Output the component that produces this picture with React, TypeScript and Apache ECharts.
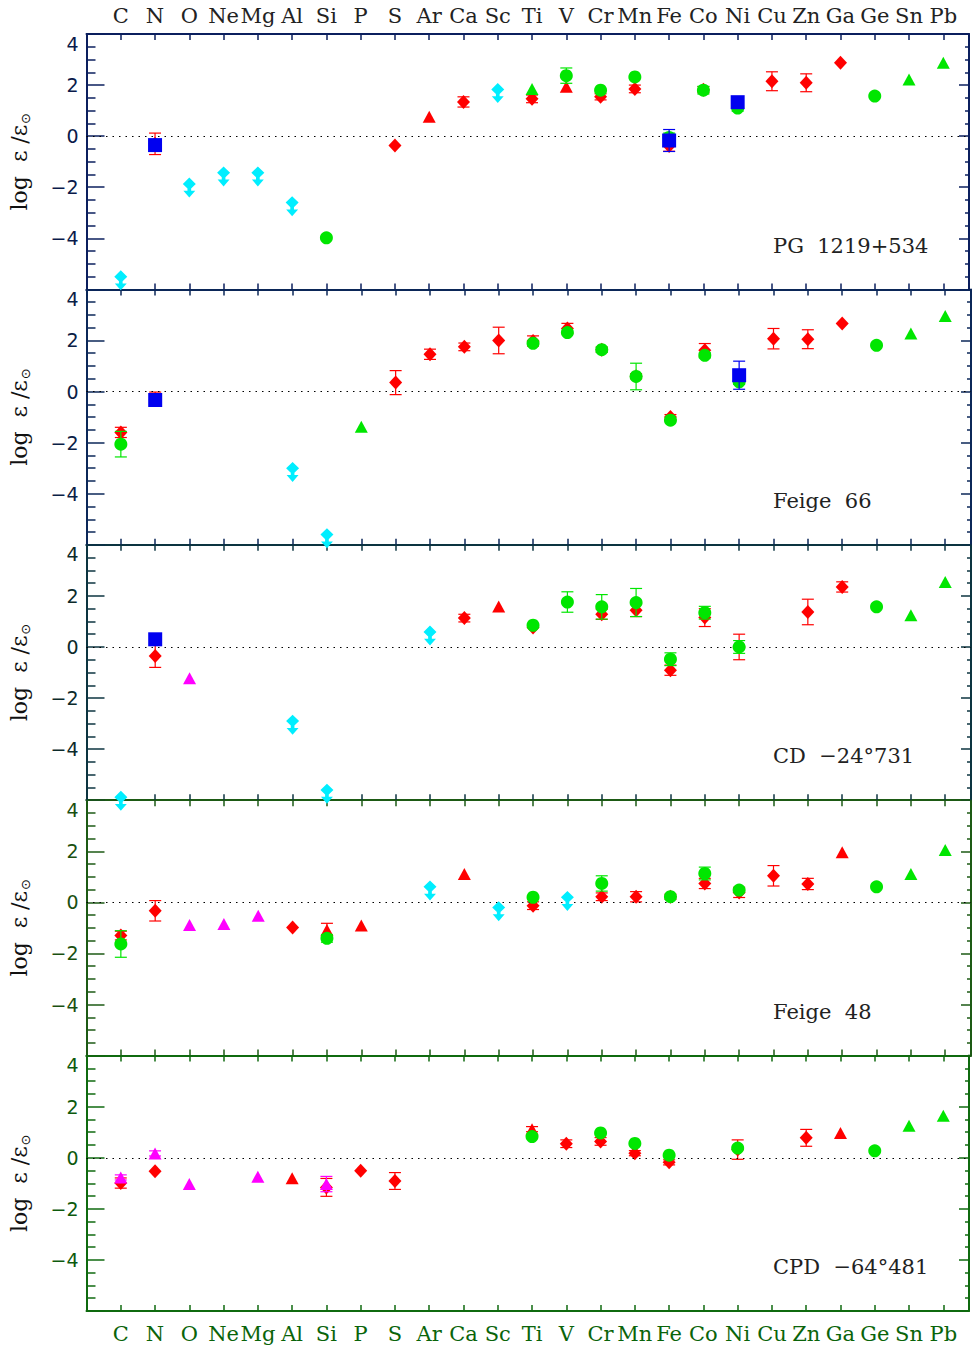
import React, { useEffect, useRef } from "react";
import * as echarts from "echarts";

const elements = ["C", "N", "O", "Ne", "Mg", "Al", "Si", "P", "S", "Ar", "Ca", "Sc", "Ti", "V", "Cr", "Mn", "Fe", "Co", "Ni", "Cu", "Zn", "Ga", "Ge", "Sn", "Pb"];
const yTicks = [-6, -4, -2, 0, 2, 4];
const starNames = ["PG  1219+534", "Feige  66", "CD  \u221224\u00b0731", "Feige  48", "CPD  \u221264\u00b0481"];

// [element, log eps/eps_sun, error]
const pg1219RedDiamond = [["N", -0.3, 0.42], ["S", -0.37, 0], ["Ca", 1.34, 0.2], ["Ti", 1.46, 0.15], ["Cr", 1.54, 0.12], ["Mn", 1.85, 0.15], ["Fe", -0.39, 0.2], ["Co", 1.82, 0.12], ["Cu", 2.15, 0.37], ["Zn", 2.09, 0.35], ["Ga", 2.87, 0]];
const pg1219RedTriangle = [["Ar", 0.76, 0], ["V", 1.93, 0]];
const pg1219GreenCircle = [["Si", -3.98, 0], ["V", 2.37, 0.3], ["Cr", 1.8, 0], ["Mn", 2.32, 0], ["Fe", -0.05, 0.17], ["Co", 1.8, 0.15], ["Ni", 1.1, 0.12], ["Ge", 1.57, 0]];
const pg1219GreenTriangle = [["Ti", 1.85, 0], ["Sn", 2.22, 0], ["Pb", 2.87, 0]];
const pg1219BlueSquare = [["N", -0.35, 0], ["Fe", -0.17, 0.43], ["Ni", 1.33, 0]];
const pg1219Cyan = [["C", -5.5], ["O", -1.87], ["Ne", -1.43], ["Mg", -1.43], ["Al", -2.6], ["Sc", 1.83]];
const pg1219Magenta = [];

const f66RedDiamond = [["C", -1.6, 0.2], ["N", -0.3, 0.28], ["S", 0.35, 0.47], ["Ar", 1.46, 0.2], ["Ca", 1.75, 0.15], ["Sc", 2.0, 0.52], ["Ti", 1.98, 0.2], ["V", 2.47, 0.2], ["Cr", 1.64, 0.1], ["Mn", 0.6, 0.1], ["Fe", -1.0, 0.1], ["Co", 1.62, 0.26], ["Cu", 2.07, 0.4], ["Zn", 2.05, 0.37], ["Ga", 2.66, 0]];
const f66RedTriangle = [];
const f66GreenCircle = [["C", -2.06, 0.5], ["Ti", 1.89, 0], ["V", 2.31, 0], ["Cr", 1.64, 0.1], ["Mn", 0.59, 0.52], ["Fe", -1.12, 0], ["Co", 1.42, 0.1], ["Ni", 0.38, 0.1], ["Ge", 1.81, 0]];
const f66GreenTriangle = [["P", -1.38, 0], ["Sn", 2.27, 0], ["Pb", 2.96, 0]];
const f66BlueSquare = [["N", -0.33, 0], ["Ni", 0.64, 0.55]];
const f66Cyan = [["Al", -3.0], ["Si", -5.6]];
const f66Magenta = [];

const cd24RedDiamond = [["N", -0.35, 0.45], ["Ca", 1.13, 0.15], ["Ti", 0.76, 0], ["Cr", 1.28, 0.2], ["Mn", 1.44, 0.25], ["Fe", -0.91, 0.2], ["Co", 1.15, 0.35], ["Ni", 0.0, 0.5], ["Zn", 1.37, 0.5], ["Ga", 2.35, 0.2]];
const cd24RedTriangle = [["Sc", 1.58, 0]];
const cd24GreenCircle = [["Ti", 0.85, 0], ["V", 1.76, 0.4], ["Cr", 1.57, 0.48], ["Mn", 1.74, 0.55], ["Fe", -0.48, 0.25], ["Co", 1.34, 0.25], ["Ni", 0.0, 0.25], ["Ge", 1.57, 0]];
const cd24GreenTriangle = [["Sn", 1.24, 0], ["Pb", 2.54, 0]];
const cd24BlueSquare = [["N", 0.3, 0]];
const cd24Cyan = [["C", -5.88], ["Al", -2.9], ["Si", -5.6], ["Ar", 0.59]];
const cd24Magenta = [["O", -1.23, 0]];

const f48RedDiamond = [["C", -1.3, 0.17], ["N", -0.33, 0.4], ["Al", -0.98, 0], ["Ti", -0.13, 0.15], ["Cr", 0.22, 0.15], ["Mn", 0.22, 0.2], ["Fe", 0.22, 0.1], ["Co", 0.74, 0.2], ["Ni", 0.39, 0.2], ["Cu", 1.04, 0.4], ["Zn", 0.72, 0.22]];
const f48RedTriangle = [["Si", -1.08, 0.26], ["P", -0.91, 0], ["Ca", 1.11, 0], ["Ga", 1.96, 0]];
const f48GreenCircle = [["C", -1.63, 0.52], ["Si", -1.41, 0.15], ["Ti", 0.2, 0], ["Cr", 0.74, 0.3], ["Fe", 0.22, 0], ["Co", 1.13, 0.25], ["Ni", 0.48, 0], ["Ge", 0.61, 0]];
const f48GreenTriangle = [["Sn", 1.11, 0], ["Pb", 2.05, 0]];
const f48BlueSquare = [];
const f48Cyan = [["Ar", 0.61], ["Sc", -0.2], ["V", 0.2]];
const f48Magenta = [["O", -0.89, 0], ["Ne", -0.85, 0], ["Mg", -0.52, 0]];

const cpd64RedDiamond = [["C", -0.99, 0.2], ["N", -0.53, 0], ["Si", -1.16, 0.35], ["P", -0.51, 0], ["S", -0.91, 0.33], ["V", 0.55, 0.15], ["Cr", 0.64, 0.15], ["Mn", 0.18, 0.1], ["Fe", -0.18, 0.1], ["Ni", 0.32, 0.38], ["Zn", 0.78, 0.33]];
const cpd64RedTriangle = [["Al", -0.8, 0], ["Ti", 1.12, 0.1], ["Ga", 0.97, 0]];
const cpd64GreenCircle = [["Ti", 0.83, 0], ["Cr", 0.97, 0], ["Mn", 0.56, 0], ["Fe", 0.1, 0], ["Ni", 0.38, 0], ["Ge", 0.27, 0]];
const cpd64GreenTriangle = [["Sn", 1.25, 0], ["Pb", 1.64, 0]];
const cpd64BlueSquare = [];
const cpd64Cyan = [];
const cpd64Magenta = [["C", -0.77, 0.1], ["N", 0.17, 0.1], ["O", -1.03, 0], ["Mg", -0.74, 0], ["Si", -1.03, 0.3]];

const panels = [
  { redDiamond: pg1219RedDiamond, redTriangle: pg1219RedTriangle, greenCircle: pg1219GreenCircle, greenTriangle: pg1219GreenTriangle, blueSquare: pg1219BlueSquare, cyan: pg1219Cyan, magenta: pg1219Magenta },
  { redDiamond: f66RedDiamond, redTriangle: f66RedTriangle, greenCircle: f66GreenCircle, greenTriangle: f66GreenTriangle, blueSquare: f66BlueSquare, cyan: f66Cyan, magenta: f66Magenta },
  { redDiamond: cd24RedDiamond, redTriangle: cd24RedTriangle, greenCircle: cd24GreenCircle, greenTriangle: cd24GreenTriangle, blueSquare: cd24BlueSquare, cyan: cd24Cyan, magenta: cd24Magenta },
  { redDiamond: f48RedDiamond, redTriangle: f48RedTriangle, greenCircle: f48GreenCircle, greenTriangle: f48GreenTriangle, blueSquare: f48BlueSquare, cyan: f48Cyan, magenta: f48Magenta },
  { redDiamond: cpd64RedDiamond, redTriangle: cpd64RedTriangle, greenCircle: cpd64GreenCircle, greenTriangle: cpd64GreenTriangle, blueSquare: cpd64BlueSquare, cyan: cpd64Cyan, magenta: cpd64Magenta },
];

const axisColors = ["#0b1f5e", "#0b2758", "#0c3440", "#1d5a14", "#0f6a0f"];
const labelColors = ["#0a1a4a", "#0a2045", "#0c2a2a", "#1a5010", "#0d5a0d"];

const RED = "#ff0000";
const GREEN = "#00e600";
const BLUE = "#0000f0";
const CYAN = "#00eeff";
const MAGENTA = "#ff00ff";

const cyanLimitSymbol = "path://M6,0L12,6L6,12L0,6Z M4.3,10L7.7,10L7.7,13.5L4.3,13.5Z M0.5,12.5L11.5,12.5L6,19Z";

const toPoint = (d: any[]) => [elements.indexOf(d[0]), d[1], d[2] ?? 0];

function errSeries(data: any[], color: string, gi: number, z: number) {
  const pts = data.filter((d) => (d[2] ?? 0) > 0).map(toPoint);
  return {
    type: "custom",
    xAxisIndex: gi * 2,
    yAxisIndex: gi * 2,
    z,
    silent: true,
    encode: { x: 0, y: 1 },
    data: pts,
    renderItem: (params: any, api: any) => {
      const x = api.value(0);
      const y = api.value(1);
      const e = api.value(2);
      const top = api.coord([x, y + e]);
      const bot = api.coord([x, y - e]);
      const w = 6;
      const style = { stroke: color, lineWidth: 1.2 };
      return {
        type: "group",
        children: [
          { type: "line", shape: { x1: top[0], y1: top[1], x2: bot[0], y2: bot[1] }, style },
          { type: "line", shape: { x1: top[0] - w, y1: top[1], x2: top[0] + w, y2: top[1] }, style },
          { type: "line", shape: { x1: bot[0] - w, y1: bot[1], x2: bot[0] + w, y2: bot[1] }, style },
        ],
      };
    },
  };
}

function scatter(data: any[], color: string, symbol: string, size: any, gi: number, z: number, extra: any = {}) {
  return {
    type: "scatter",
    xAxisIndex: gi * 2,
    yAxisIndex: gi * 2,
    z,
    silent: true,
    symbol,
    symbolSize: size,
    itemStyle: { color, opacity: 1 },
    data: data.map(toPoint).map((p) => [p[0], p[1]]),
    ...extra,
  };
}

export default function App() {
  const ref = useRef<HTMLDivElement>(null);
  useEffect(() => {
    if (!ref.current) return;
    const chart = echarts.init(ref.current, null, { renderer: "svg" });
    const panelTop = 34;
    const panelH = 255.4;
    const grids: any[] = [];
    const xAxes: any[] = [];
    const yAxes: any[] = [];
    const series: any[] = [];
    const graphics: any[] = [];

    panels.forEach((p, i) => {
      const top = panelTop + i * panelH;
      grids.push({ left: 85, top, width: 886, height: panelH, containLabel: false });
      const ac = axisColors[i];
      const lc = labelColors[i];
      const xBase = {
        type: "value",
        gridIndex: i,
        min: -1,
        max: 24.75,
        interval: 1,
        splitLine: { show: false },
        axisLine: { show: true, onZero: false, lineStyle: { color: ac, width: 2 } },
        axisTick: { show: true, inside: true, length: 6, lineStyle: { color: ac, width: 1.5 } },
      };
      xAxes.push({
        ...xBase,
        position: "bottom",
        axisLabel: {
          show: i === 4,
          formatter: (v: number) => elements[Math.round(v)] ?? "",
          color: "#0a640a",
          fontSize: 21,
          fontFamily: "DejaVu Serif",
          margin: 12,
        },
      });
      xAxes.push({
        ...xBase,
        position: "top",
        axisLabel: {
          show: i === 0,
          formatter: (v: number) => elements[Math.round(v)] ?? "",
          color: "#222222",
          fontSize: 21,
          fontFamily: "DejaVu Serif",
          margin: 8,
        },
      });
      const yBase = {
        type: "value",
        gridIndex: i,
        min: yTicks[0],
        max: yTicks[yTicks.length - 1],
        interval: 2,
        splitLine: { show: false },
        minorSplitLine: { show: false },
        axisLine: { show: true, onZero: false, lineStyle: { color: ac, width: 2 } },
      };
      yAxes.push({
        ...yBase,
        position: "left",
        axisTick: { show: true, inside: true, length: 18, lineStyle: { color: ac, width: 1.5 } },
        minorTick: { show: true, splitNumber: 4, length: 9, lineStyle: { color: ac, width: 1.5 } },
        axisLabel: {
          show: true,
          formatter: (v: number) => (v === -6 ? "" : String(v).replace("-", "\u2212")),
          color: lc,
          fontSize: 19,
          fontFamily: "DejaVu Sans",
          margin: 8,
          verticalAlignMaxLabel: "top",
        },
        name: "{t|log  \u03b5 /\u03b5}{s|\u2299}",
        nameLocation: "middle",
        nameRotate: 90,
        nameGap: 55,
        nameTextStyle: {
          rich: {
            t: { fontSize: 22, fontFamily: "DejaVu Serif", color: "#111111" },
            s: { fontSize: 13, fontFamily: "DejaVu Sans", color: "#111111", padding: [12, 0, 0, 1] },
          },
        },
      });
      yAxes.push({
        ...yBase,
        position: "right",
        axisTick: { show: true, inside: true, length: 10, lineStyle: { color: ac, width: 1.5 } },
        minorTick: { show: true, splitNumber: 4, length: 4, lineStyle: { color: ac, width: 1.5 } },
        axisLabel: { show: false },
      });

      series.push(errSeries(p.redDiamond, RED, i, 2));
      series.push(
        scatter(p.redDiamond, RED, "diamond", [13, 14], i, 3, {
          markLine: {
            silent: true,
            symbol: "none",
            label: { show: false },
            lineStyle: { type: [1.5, 5], color: "#000000", width: 1 },
            data: [{ yAxis: 0 }],
          },
        })
      );
      series.push(errSeries(p.redTriangle, RED, i, 3));
      series.push(scatter(p.redTriangle, RED, "triangle", [13, 12], i, 4));
      series.push(errSeries(p.magenta, MAGENTA, i, 4));
      series.push(scatter(p.magenta, MAGENTA, "triangle", [13, 12], i, 5));
      series.push(errSeries(p.greenCircle, GREEN, i, 5));
      series.push(scatter(p.greenCircle, GREEN, "circle", 13, i, 6));
      series.push(scatter(p.greenTriangle, GREEN, "triangle", [13, 12], i, 6));
      series.push(scatter(p.cyan, CYAN, cyanLimitSymbol, [13, 20], i, 7, { symbolOffset: [0, 3.7] }));
      series.push(errSeries(p.blueSquare, BLUE, i, 8));
      series.push(scatter(p.blueSquare, BLUE, "rect", 14, i, 9));

      graphics.push({
        type: "text",
        left: 773,
        top: top + 201,
        silent: true,
        style: { text: starNames[i], fontSize: 21, fontFamily: "DejaVu Serif", fill: "#222222" },
      });
    });

    chart.setOption({
      animation: false,
      backgroundColor: "#ffffff",
      grid: grids,
      xAxis: xAxes,
      yAxis: yAxes,
      series,
      graphic: graphics,
    });
    return () => chart.dispose();
  }, []);
  return <div ref={ref} style={{ position: "absolute", left: 0, top: 0, width: 972, height: 1352 }} />;
}
